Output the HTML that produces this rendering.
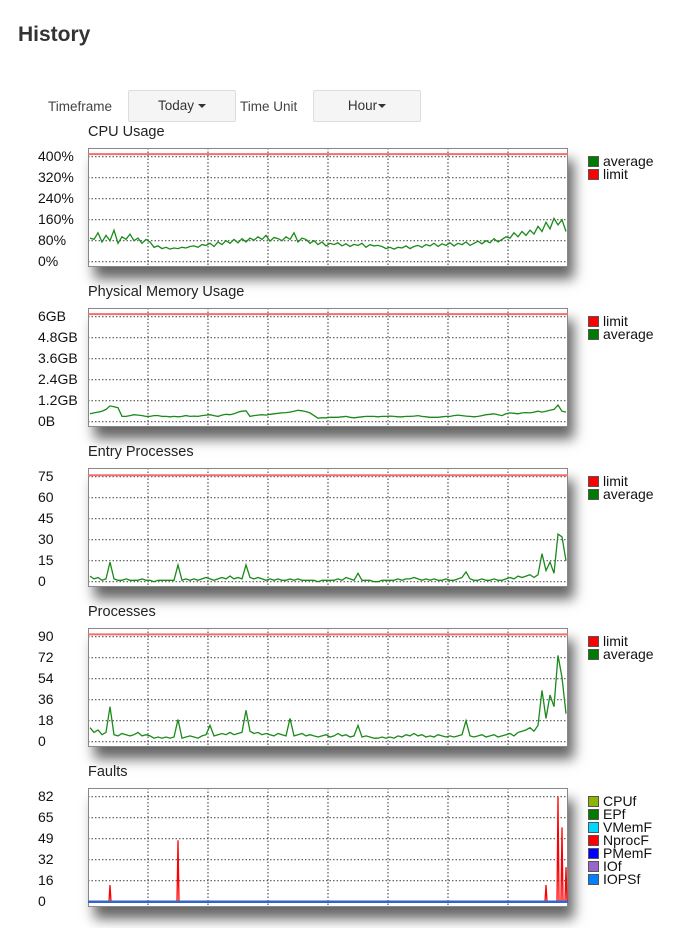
<!DOCTYPE html>
<html><head><meta charset="utf-8"><style>
body{margin:0;width:697px;height:928px;background:#fff;font-family:"Liberation Sans",sans-serif;color:#222;position:relative;overflow:hidden}
.abs{position:absolute}
h1{position:absolute;left:18px;top:23px;margin:0;font-size:21px;font-weight:bold;color:#333}
.lbl{font-size:13.5px;color:#444}
.btn{position:absolute;background:#f5f5f5;border:1px solid #ddd;border-radius:2px;font-size:13.5px;color:#333;text-align:center;line-height:30px;height:30px}
.caret{display:inline-block;width:0;height:0;border-left:4px solid transparent;border-right:4px solid transparent;border-top:4px solid #333;vertical-align:middle;margin-left:4px}
.ctitle{position:absolute;left:88px;font-size:14.5px;color:#222}
.plotbox{position:absolute;left:88px;width:480px;height:119px;box-shadow:6px 12px 12px rgba(0,0,0,.6);background:#fff}
.tick{position:absolute;font-size:14px;color:#111;width:80px}
.leg{position:absolute;left:588px;font-size:14px;line-height:13px;color:#111}
.leg div{height:13px;white-space:nowrap}
.sw{display:inline-block;width:9px;height:9px;border:1px solid #555;margin-right:4px;vertical-align:-1px}
</style></head><body>
<h1>History</h1>
<div class="abs lbl" style="left:48px;top:99px">Timeframe</div>
<div class="btn" style="left:128px;top:90px;width:106px">Today<span class="caret"></span></div>
<div class="abs lbl" style="left:240px;top:99px">Time Unit</div>
<div class="btn" style="left:313px;top:90px;width:106px">Hour<span class="caret" style="margin-left:1px"></span></div>
<div id="charts"></div>
<script>
const cpuAvg=[90,85,110,75,100,80,120,70,95,85,105,80,90,70,85,75,55,60,50,55,48,52,50,55,52,58,60,55,65,62,70,58,75,65,80,70,85,72,88,75,90,82,95,85,100,78,92,88,80,95,85,110,75,90,85,70,80,65,75,60,70,65,72,60,68,58,66,62,70,55,65,60,62,58,50,55,48,55,52,60,50,58,62,55,65,60,70,58,68,62,72,60,70,65,75,62,70,78,68,80,72,88,75,85,95,90,110,95,115,100,120,105,135,115,150,125,165,140,160,115];
const cpuLimit=410;
const memAvg=[0.45,0.5,0.55,0.6,0.7,0.9,0.85,0.8,0.3,0.3,0.35,0.4,0.38,0.35,0.3,0.3,0.35,0.35,0.3,0.3,0.28,0.3,0.28,0.3,0.35,0.3,0.32,0.3,0.35,0.38,0.4,0.35,0.3,0.38,0.42,0.4,0.45,0.55,0.6,0.62,0.3,0.35,0.38,0.4,0.38,0.42,0.45,0.48,0.5,0.52,0.55,0.6,0.65,0.62,0.58,0.5,0.35,0.2,0.22,0.22,0.25,0.25,0.25,0.28,0.3,0.25,0.22,0.25,0.28,0.3,0.3,0.3,0.28,0.3,0.3,0.32,0.3,0.28,0.28,0.3,0.3,0.32,0.35,0.3,0.28,0.25,0.25,0.25,0.28,0.3,0.3,0.35,0.38,0.35,0.32,0.3,0.28,0.3,0.35,0.4,0.42,0.45,0.4,0.35,0.45,0.5,0.48,0.45,0.5,0.52,0.5,0.55,0.6,0.55,0.6,0.65,0.7,0.95,0.6,0.55];
const memLimit=6.15;
const entryAvg=[4,2,3,1,2,14,2,1,1,2,1,1,1,2,1,1,0,1,1,1,1,1,12,1,2,1,2,1,2,3,2,1,2,3,2,4,2,3,2,12,3,2,3,2,1,2,1,2,1,1,2,1,2,1,1,1,1,0,1,1,1,1,2,1,3,2,1,6,1,1,1,0,0,1,1,1,1,2,1,2,2,3,2,1,2,1,2,1,1,2,1,1,2,3,7,2,1,1,2,1,1,2,1,1,2,3,2,4,3,4,5,3,5,20,8,14,6,34,32,15];
const entryLimit=76;
const procAvg=[12,8,10,6,8,30,6,5,7,6,5,6,8,5,6,5,3,4,3,4,3,4,19,3,4,5,4,3,5,6,14,5,6,7,6,8,6,7,8,27,9,7,8,6,7,6,5,7,6,5,20,5,6,7,5,6,5,4,5,6,4,5,7,5,6,4,5,14,4,5,4,3,3,4,3,4,3,5,4,6,5,7,5,6,4,5,4,6,5,4,5,4,5,6,18,5,4,5,6,4,5,6,4,5,6,7,5,8,9,10,12,9,14,44,20,40,30,74,55,24];
const procLimit=92;
const faultIdx=[5,22,114,117,118,119];
const faultVal=[13,48,13,82,58,27];
const faultLimit=82;

const X0=88, W=480, STEP=4;
function xAt(i){return X0+2+i*STEP;}
function yScale(top,maxTick,v){const y0=top+113.7, y1=top+8.7;return y0-(v/maxTick)*(y0-y1);}
const NS='http://www.w3.org/2000/svg';
const charts=[
 {name:'cpu-usage',title:'CPU Usage',top:148,ticks:['400%','320%','240%','160%','80%','0%'],max:400,series:[['average','#1a8a1a',cpuAvg]],limit:cpuLimit,legend:[['average','#007a00'],['limit','#ff0000']]},
 {name:'physical-memory',title:'Physical Memory Usage',top:308,ticks:['6GB','4.8GB','3.6GB','2.4GB','1.2GB','0B'],max:6,series:[['average','#1a8a1a',memAvg]],limit:memLimit,legend:[['limit','#ff0000'],['average','#007a00']]},
 {name:'entry-processes',title:'Entry Processes',top:468,ticks:['75','60','45','30','15','0'],max:75,series:[['average','#1a8a1a',entryAvg]],limit:entryLimit,legend:[['limit','#ff0000'],['average','#007a00']]},
 {name:'processes',title:'Processes',top:628,ticks:['90','72','54','36','18','0'],max:90,series:[['average','#1a8a1a',procAvg]],limit:procLimit,legend:[['limit','#ff0000'],['average','#007a00']]},
 {name:'faults',title:'Faults',top:788,ticks:['82','65','49','32','16','0'],max:82,series:[],limit:null,legend:[['CPUf','#8db600'],['EPf','#007a00'],['VMemF','#00d8ff'],['NprocF','#ff0000'],['PMemF','#0000ff'],['IOf','#9966cc'],['IOPSf','#0080ff']]}
];
const root=document.getElementById('charts');
charts.forEach(c=>{
 const t=document.createElement('div');t.className='ctitle';t.style.top=(c.top-24)+'px';t.textContent=c.title;
 
 
 root.appendChild(t);
 c.ticks.forEach((lab,k)=>{
  const d=document.createElement('div');d.className='tick';
  d.style.left='38px';d.style.top=(c.top+8.7+k*21-9)+'px';d.textContent=lab;
  
  
  root.appendChild(d);
 });
 const box=document.createElement('div');box.className='plotbox';box.style.top=c.top+'px';
 
 
 root.appendChild(box);
 const svg=document.createElementNS(NS,'svg');
 svg.setAttribute('width','697');svg.setAttribute('height','130');
 svg.style.position='absolute';svg.style.left='0';svg.style.top=(c.top-2)+'px';
 
 
 const oy=c.top-2;
 const add=(tag,attrs)=>{const e=document.createElementNS(NS,tag);for(const k in attrs)e.setAttribute(k,attrs[k]);svg.appendChild(e);return e;};
 for(let k=0;k<6;k++){const y=c.top+8.7+k*21-oy;const g=add('line',{x1:X0,x2:X0+W,y1:y,y2:y,stroke:'#555','stroke-width':1.2,'stroke-dasharray':'1.5,2'});}
 for(let k=1;k<8;k++){const x=X0+k*60;const g=add('line',{x1:x,x2:x,y1:c.top-oy,y2:c.top+119-oy,stroke:'#555','stroke-width':1.2,'stroke-dasharray':'1.5,2'});}
 const fr=add('rect',{x:X0+.5,y:c.top+.5-oy,width:W-1,height:118,fill:'none',stroke:'#888','stroke-width':1});
 
 if(c.limit!==null){const y=yScale(c.top,c.max,c.limit)-oy;const l=add('line',{x1:X0,x2:X0+W,y1:y,y2:y,stroke:'#f07070','stroke-width':2});}
 c.series.forEach(s=>{
  const pts=s[2].map((v,i)=>xAt(i)+','+(yScale(c.top,c.max,v)-oy).toFixed(1)).join(' ');
  const p=add('polyline',{points:pts,fill:'none',stroke:s[1],'stroke-width':1.3});
  
  
 });
 if(c.name==='faults'){
  const base=yScale(c.top,c.max,0)-oy;
  faultIdx.forEach((ix,j)=>{
   const x=xAt(ix);const y=yScale(c.top,c.max,faultVal[j])-oy;
   const sp=add('polyline',{points:(x-1)+','+base+' '+x+','+y+' '+(x+1)+','+base,fill:'none',stroke:'#ff0000','stroke-width':1.3});
   
   
  });
  const bl=add('line',{x1:X0,x2:X0+W,y1:base,y2:base,stroke:'#3366cc','stroke-width':2.5});
  
  
 }
 root.appendChild(svg);
 const lg=document.createElement('div');lg.className='leg';lg.style.top=(c.top+7)+'px';
 
 
 c.legend.forEach(e=>{const it=document.createElement('div');it.innerHTML='<span class="sw" style="background:'+e[1]+'"></span>'+e[0];
  
  
  lg.appendChild(it);});
 root.appendChild(lg);
});
</script>
</body></html>
